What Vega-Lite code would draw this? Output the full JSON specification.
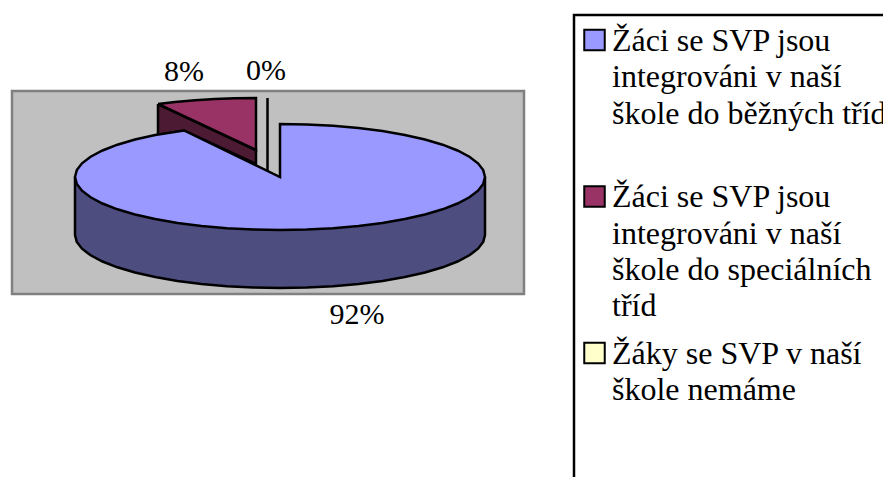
{"$schema":"https://vega.github.io/schema/vega-lite/v6.json","width":883,"height":477,"padding":0,"autosize":{"type":"none"},"background":"#ffffff","config":{"view":{"stroke":null}},
"datasets":{
"frames":[{"name":"plot","x":12,"x2":524,"y":91,"y2":294,"fill":"#C0C0C0","stroke":"#808080"},{"name":"legend","x":574,"x2":900,"y":15,"y2":500,"fill":"#FFFFFF","stroke":"#000000"}],
"outline":[
{"part":"s3","i":1,"x":267.5,"y":98},{"part":"s3","i":2,"x":267.5,"y":172},
{"part":"s2wall","i":1,"x":158,"y":104},{"part":"s2wall","i":2,"x":158,"y":135},{"part":"s2wall","i":3,"x":184,"y":130.5},{"part":"s2wall","i":4,"x":256,"y":164},{"part":"s2wall","i":5,"x":256,"y":150},{"part":"s2wall","i":6,"x":158,"y":104},
{"part":"s2top","i":1,"x":158,"y":104},{"part":"s2top","i":2,"x":175,"y":102},{"part":"s2top","i":3,"x":195,"y":100.2},{"part":"s2top","i":4,"x":215,"y":99},{"part":"s2top","i":5,"x":235,"y":98.3},{"part":"s2top","i":6,"x":256,"y":98},{"part":"s2top","i":7,"x":256,"y":150},{"part":"s2top","i":8,"x":158,"y":104},
{"part":"s1wall","i":1,"x":75,"y":177},{"part":"s1wall","i":2,"x":75,"y":235},{"part":"s1wall","i":3,"x":76.8,"y":241.9},{"part":"s1wall","i":4,"x":82,"y":248.7},{"part":"s1wall","i":5,"x":90.6,"y":255.3},{"part":"s1wall","i":6,"x":102.5,"y":261.5},{"part":"s1wall","i":7,"x":117.4,"y":267.3},{"part":"s1wall","i":8,"x":135,"y":272.5},{"part":"s1wall","i":9,"x":155.2,"y":277},{"part":"s1wall","i":10,"x":177.5,"y":280.9},{"part":"s1wall","i":11,"x":201.5,"y":284},{"part":"s1wall","i":12,"x":226.9,"y":286.2},{"part":"s1wall","i":13,"x":253.2,"y":287.5},{"part":"s1wall","i":14,"x":280,"y":288},{"part":"s1wall","i":15,"x":306.8,"y":287.5},{"part":"s1wall","i":16,"x":333.1,"y":286.2},{"part":"s1wall","i":17,"x":358.5,"y":284},{"part":"s1wall","i":18,"x":382.5,"y":280.9},{"part":"s1wall","i":19,"x":404.8,"y":277},{"part":"s1wall","i":20,"x":425,"y":272.5},{"part":"s1wall","i":21,"x":442.6,"y":267.3},{"part":"s1wall","i":22,"x":457.5,"y":261.5},{"part":"s1wall","i":23,"x":469.4,"y":255.3},{"part":"s1wall","i":24,"x":478,"y":248.7},{"part":"s1wall","i":25,"x":483.2,"y":241.9},{"part":"s1wall","i":26,"x":485,"y":235},{"part":"s1wall","i":27,"x":485,"y":177},
{"part":"s1top","i":1,"x":280,"y":177},{"part":"s1top","i":2,"x":280,"y":124},{"part":"s1top","i":3,"x":306.8,"y":124.5},{"part":"s1top","i":4,"x":333.1,"y":125.8},{"part":"s1top","i":5,"x":358.5,"y":128},{"part":"s1top","i":6,"x":382.5,"y":131.1},{"part":"s1top","i":7,"x":404.8,"y":135},{"part":"s1top","i":8,"x":425,"y":139.5},{"part":"s1top","i":9,"x":442.6,"y":144.7},{"part":"s1top","i":10,"x":457.5,"y":150.5},{"part":"s1top","i":11,"x":469.4,"y":156.7},{"part":"s1top","i":12,"x":478,"y":163.3},{"part":"s1top","i":13,"x":483.2,"y":170.1},{"part":"s1top","i":14,"x":485,"y":177},{"part":"s1top","i":15,"x":483.2,"y":183.9},{"part":"s1top","i":16,"x":478,"y":190.7},{"part":"s1top","i":17,"x":469.4,"y":197.3},{"part":"s1top","i":18,"x":457.5,"y":203.5},{"part":"s1top","i":19,"x":442.6,"y":209.3},{"part":"s1top","i":20,"x":425,"y":214.5},{"part":"s1top","i":21,"x":404.8,"y":219},{"part":"s1top","i":22,"x":382.5,"y":222.9},{"part":"s1top","i":23,"x":358.5,"y":226},{"part":"s1top","i":24,"x":333.1,"y":228.2},{"part":"s1top","i":25,"x":306.8,"y":229.5},{"part":"s1top","i":26,"x":280,"y":230},{"part":"s1top","i":27,"x":253.2,"y":229.5},{"part":"s1top","i":28,"x":226.9,"y":228.2},{"part":"s1top","i":29,"x":201.5,"y":226},{"part":"s1top","i":30,"x":177.5,"y":222.9},{"part":"s1top","i":31,"x":155.2,"y":219},{"part":"s1top","i":32,"x":135,"y":214.5},{"part":"s1top","i":33,"x":117.4,"y":209.3},{"part":"s1top","i":34,"x":102.5,"y":203.5},{"part":"s1top","i":35,"x":90.6,"y":197.3},{"part":"s1top","i":36,"x":82,"y":190.7},{"part":"s1top","i":37,"x":76.8,"y":183.9},{"part":"s1top","i":38,"x":75,"y":177},{"part":"s1top","i":39,"x":76.8,"y":170.1},{"part":"s1top","i":40,"x":82,"y":163.3},{"part":"s1top","i":41,"x":90.6,"y":156.7},{"part":"s1top","i":42,"x":102.5,"y":150.5},{"part":"s1top","i":43,"x":117.4,"y":144.7},{"part":"s1top","i":44,"x":135,"y":139.5},{"part":"s1top","i":45,"x":155.2,"y":135},{"part":"s1top","i":46,"x":184,"y":130.5},{"part":"s1top","i":47,"x":280,"y":177},{"part":"s1top","i":48,"x":280,"y":124}
],
"pcts":[{"t":"8%","x":184,"y":81},{"t":"0%","x":266,"y":80},{"t":"92%","x":357,"y":324}],
"texts":[
{"t":"Žáci se SVP jsou","x":612,"y":51},{"t":"integrováni v naší","x":612,"y":87},{"t":"škole do běžných tříd","x":612,"y":124},
{"t":"Žáci se SVP jsou","x":612,"y":207},{"t":"integrováni v naší","x":612,"y":244},{"t":"škole do speciálních","x":612,"y":280},{"t":"tříd","x":612,"y":316},
{"t":"Žáky se SVP v naší","x":612,"y":364},{"t":"škole nemáme","x":612,"y":400}
],
"swatches":[{"series":"a","x":594.5,"y":40},{"series":"b","x":594.5,"y":196.5},{"series":"c","x":594.5,"y":353}]
},
"layer":[
{"data":{"name":"frames"},"mark":{"type":"rect","strokeWidth":2.5},"encoding":{"x":{"field":"x","type":"quantitative","scale":{"domain":[0,883],"range":[0,883],"nice":false,"zero":false},"axis":null},"x2":{"field":"x2"},"y":{"field":"y","type":"quantitative","scale":{"domain":[0,477],"range":[0,477],"nice":false,"zero":false},"axis":null},"y2":{"field":"y2"},"fill":{"field":"fill","type":"nominal","scale":null,"legend":null},"stroke":{"field":"stroke","type":"nominal","scale":null,"legend":null}}},
{"data":{"name":"outline"},"transform":[{"filter":"datum.part=='s3'"}],"mark":{"type":"line","stroke":"#000000","strokeWidth":2.5,"strokeCap":"butt"},"encoding":{"x":{"field":"x","type":"quantitative","axis":null},"y":{"field":"y","type":"quantitative","axis":null},"order":{"field":"i"}}},
{"data":{"name":"outline"},"transform":[{"filter":"datum.part=='s2wall'"}],"mark":{"type":"line","fill":"#4D1A33","stroke":"#000000","strokeWidth":2.5,"strokeJoin":"miter"},"encoding":{"x":{"field":"x","type":"quantitative","axis":null},"y":{"field":"y","type":"quantitative","axis":null},"order":{"field":"i"}}},
{"data":{"name":"outline"},"transform":[{"filter":"datum.part=='s2top'"}],"mark":{"type":"line","fill":"#993366","stroke":"#000000","strokeWidth":2.5,"strokeJoin":"miter"},"encoding":{"x":{"field":"x","type":"quantitative","axis":null},"y":{"field":"y","type":"quantitative","axis":null},"order":{"field":"i"}}},
{"data":{"name":"outline"},"transform":[{"filter":"datum.part=='s1wall'"}],"mark":{"type":"line","fill":"#4D4D80","stroke":"#000000","strokeWidth":2.5,"strokeJoin":"miter"},"encoding":{"x":{"field":"x","type":"quantitative","axis":null},"y":{"field":"y","type":"quantitative","axis":null},"order":{"field":"i"}}},
{"data":{"name":"outline"},"transform":[{"filter":"datum.part=='s1top'"}],"mark":{"type":"line","fill":"#9999FF","stroke":"#000000","strokeWidth":2.5,"strokeJoin":"miter"},"encoding":{"x":{"field":"x","type":"quantitative","axis":null},"y":{"field":"y","type":"quantitative","axis":null},"order":{"field":"i"}}},
{"data":{"name":"swatches"},"mark":{"type":"point","shape":"square","filled":true,"size":420,"stroke":"#000000","strokeWidth":2,"opacity":1},"encoding":{"x":{"field":"x","type":"quantitative","axis":null},"y":{"field":"y","type":"quantitative","axis":null},"fill":{"field":"series","type":"nominal","scale":{"domain":["a","b","c"],"range":["#9999FF","#993366","#FFFFCC"]},"legend":null}}},
{"data":{"name":"pcts"},"mark":{"type":"text","font":"Liberation Serif","fontSize":30,"baseline":"alphabetic","align":"center","color":"#000000"},"encoding":{"x":{"field":"x","type":"quantitative","axis":null},"y":{"field":"y","type":"quantitative","axis":null},"text":{"field":"t","type":"nominal"}}},
{"data":{"name":"texts"},"mark":{"type":"text","font":"Liberation Serif","fontSize":32,"baseline":"alphabetic","align":"left","color":"#000000"},"encoding":{"x":{"field":"x","type":"quantitative","axis":null},"y":{"field":"y","type":"quantitative","axis":null},"text":{"field":"t","type":"nominal"}}}
],
"resolve":{"scale":{"fill":"independent","stroke":"independent"}}}
